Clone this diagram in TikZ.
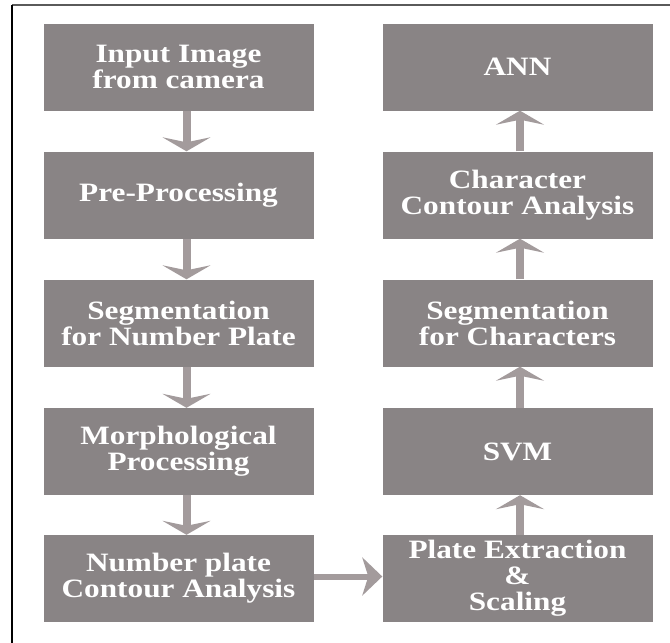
\documentclass[tikz,border=0pt]{standalone}
\usepackage{fontspec}
\newfontfamily\boxfont[FakeStretch=1.18]{Liberation Serif}
\usetikzlibrary{arrows.meta}
\definecolor{boxgray}{RGB}{137,132,133}
\definecolor{arrgray}{RGB}{163,155,156}
\definecolor{framegray}{RGB}{90,90,90}
\tikzset{
  stage/.style={rectangle, fill=boxgray, draw=none, minimum width=270pt, minimum height=87pt,
    inner sep=0pt, align=center, text=white, font=\boxfont\bfseries\fontsize{26.5}{26}\selectfont},
  varrow/.style={draw=arrgray, line width=8pt, -{Stealth[length=14pt, width=48pt, inset=5pt, fill=arrgray]}},
  harrow/.style={draw=arrgray, line width=6pt, -{Stealth[length=20pt, width=38pt, inset=6pt, fill=arrgray]}}
}
\begin{document}
\begin{tikzpicture}[x=1pt, y=-1pt]
\useasboundingbox (0,0) rectangle (670,643);
\fill[white] (0,0) rectangle (670,643);
% frame
\draw[framegray, line width=1.5pt] (12,5) -- (670,5);
\draw[black, line width=2pt] (12,5) -- (12,643);
% left column
\node[stage] (in)  at (178.5,67)   {Input Image\\from camera};
\node[stage] (pre) at (178.5,195)  {Pre-Processing};
\node[stage] (seg) at (178.5,323)  {Segmentation\\for Number Plate};
\node[stage] (mor) at (178.5,451.5){Morphological\\Processing};
\node[stage] (npc) at (178.5,578.5){Number plate\\Contour Analysis};
% right column
\node[stage] (ann) at (517.5,67)   {ANN};
\node[stage] (cca) at (517.5,195)  {Character\\Contour Analysis};
\node[stage] (sfc) at (517.5,323)  {Segmentation\\for Characters};
\node[stage] (svm) at (517.5,451.5){SVM};
\node[stage] (pes) at (517.5,578.5){Plate Extraction\\\&\\Scaling};
% arrows left (slightly right of centre)
\draw[varrow] ([xshift=8pt]in.south)  -- ([xshift=8pt]pre.north);
\draw[varrow] ([xshift=8pt]pre.south) -- ([xshift=8pt]seg.north);
\draw[varrow] ([xshift=8pt]seg.south) -- ([xshift=8pt]mor.north);
\draw[varrow] ([xshift=8pt]mor.south) -- ([xshift=8pt]npc.north);
% horizontal
\draw[harrow] ([yshift=2pt]npc.east) -- ([yshift=2pt]pes.west);
% arrows right
\draw[varrow] ([xshift=2.5pt]pes.north) -- ([xshift=2.5pt]svm.south);
\draw[varrow] ([xshift=2.5pt]svm.north) -- ([xshift=2.5pt]sfc.south);
\draw[varrow] ([xshift=2.5pt]sfc.north) -- ([xshift=2.5pt]cca.south);
\draw[varrow] ([xshift=2.5pt]cca.north) -- ([xshift=2.5pt]ann.south);
\end{tikzpicture}
\end{document}
